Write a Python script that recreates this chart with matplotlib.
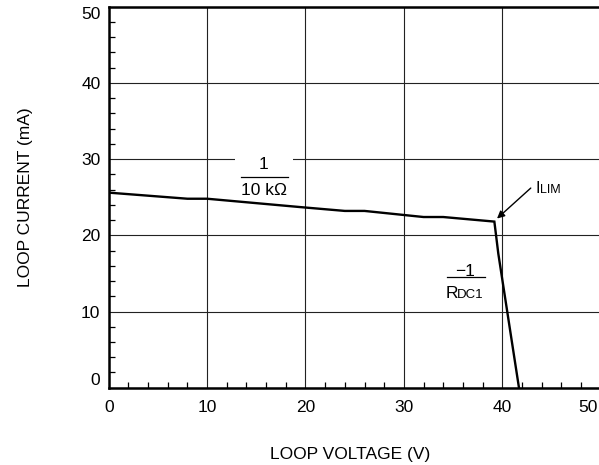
import matplotlib
matplotlib.use("Agg")
import matplotlib.pyplot as plt
import matplotlib.transforms as mtransforms
from matplotlib.patches import Rectangle

plt.rcParams["font.family"] = ["Liberation Sans", "DejaVu Sans"]

# loop voltage (V) vs loop current (mA)
loop_voltage = [0, 8, 10, 19.5, 24, 26, 32, 34, 39.2, 39.6, 41.7]
loop_current = [25.6, 24.8, 24.8, 23.7, 23.2, 23.2, 22.4, 22.4, 21.8, 17.6, 0]

major_ticks = [0, 10, 20, 30, 40, 50]
minor_ticks = [v for v in range(0, 51, 2) if v % 10 != 0]

FS = 12.5

fig = plt.figure(figsize=(5.99, 4.65), dpi=100)
ax = fig.add_axes([0.1815, 0.1662, 0.8212, 0.8194])

ax.plot(loop_voltage, loop_current, color="black", lw=1.7, zorder=4,
        solid_joinstyle="miter")

ax.set_xlim(0, 50)
ax.set_ylim(0, 50)

ax.set_xticks(major_ticks)
ax.set_yticks(major_ticks)
ax.set_xticks(minor_ticks, minor=True)
ax.set_yticks(minor_ticks, minor=True)
ax.tick_params(which="major", length=0, labelsize=FS)
ax.tick_params(axis="x", which="major", pad=9)
ax.tick_params(axis="y", which="major", pad=6)
ax.tick_params(which="minor", direction="in", length=4.5, width=0.9,
               color="black")
ax.grid(which="major", color="#222222", lw=0.8)

for s in ax.spines.values():
    s.set_linewidth(1.8)
    s.set_zorder(5)

ylabels = ax.get_yticklabels()
ylabels[0].set_va("bottom")
ylabels[-1].set_va("top")
xlabels = ax.get_xticklabels()
xlabels[-1].set_ha("right")
# pull the last x label back inside the canvas edge
shift = mtransforms.ScaledTranslation(-3 / 100, 0, fig.dpi_scale_trans)
xlabels[-1].set_transform(xlabels[-1].get_transform() + shift)

# axis titles
fig.text(350 / 599, 1 - 454 / 465, "LOOP VOLTAGE (V)", fontsize=FS,
         ha="center", va="center")
fig.text(26 / 599, 1 - 197 / 465, "LOOP CURRENT (mA)", fontsize=FS,
         ha="center", va="center", rotation=90)

# 1 / 10 kOhm label with white background over the grid line
ax.add_patch(Rectangle((12.85, 28.0), 5.87, 3.2, facecolor="white",
                       edgecolor="none", zorder=3))
ax.plot([13.43, 18.27], [27.69, 27.69], color="black", lw=0.9, zorder=4)
ax.text(15.73, 28.66, "1", fontsize=FS, ha="center", va="baseline", zorder=4)
ax.text(15.83, 25.29, "10 k\u03a9", fontsize=FS, ha="center", va="baseline",
        zorder=4)

# -1 / RDC1 label
ax.plot([34.38, 38.21], [14.49, 14.49], color="black", lw=0.9, zorder=4)
ax.text(36.25, 14.66, "\u22121", fontsize=FS, ha="center", va="baseline",
        zorder=4)
ax.text(34.2, 11.73, "R", fontsize=FS, ha="left", va="baseline", zorder=4)
ax.annotate("DC1", xy=(34.2, 11.73), xytext=(8.3, 0),
            textcoords="offset points", fontsize=9.5, ha="left",
            va="baseline", zorder=4)

# I_LIM arrow
ax.annotate("", xy=(39.47, 22.2), xytext=(42.9, 26.2),
            arrowprops=dict(arrowstyle="-|>", color="black", lw=1.0,
                            mutation_scale=11, shrinkA=0, shrinkB=0),
            zorder=6)
ax.text(43.37, 25.6, "I", fontsize=11.5, ha="left", va="baseline", zorder=4)
ax.annotate("LIM", xy=(43.37, 25.6), xytext=(3.6, 0),
            textcoords="offset points", fontsize=9, ha="left",
            va="baseline", zorder=4)

fig.savefig("out.png", dpi=100)
